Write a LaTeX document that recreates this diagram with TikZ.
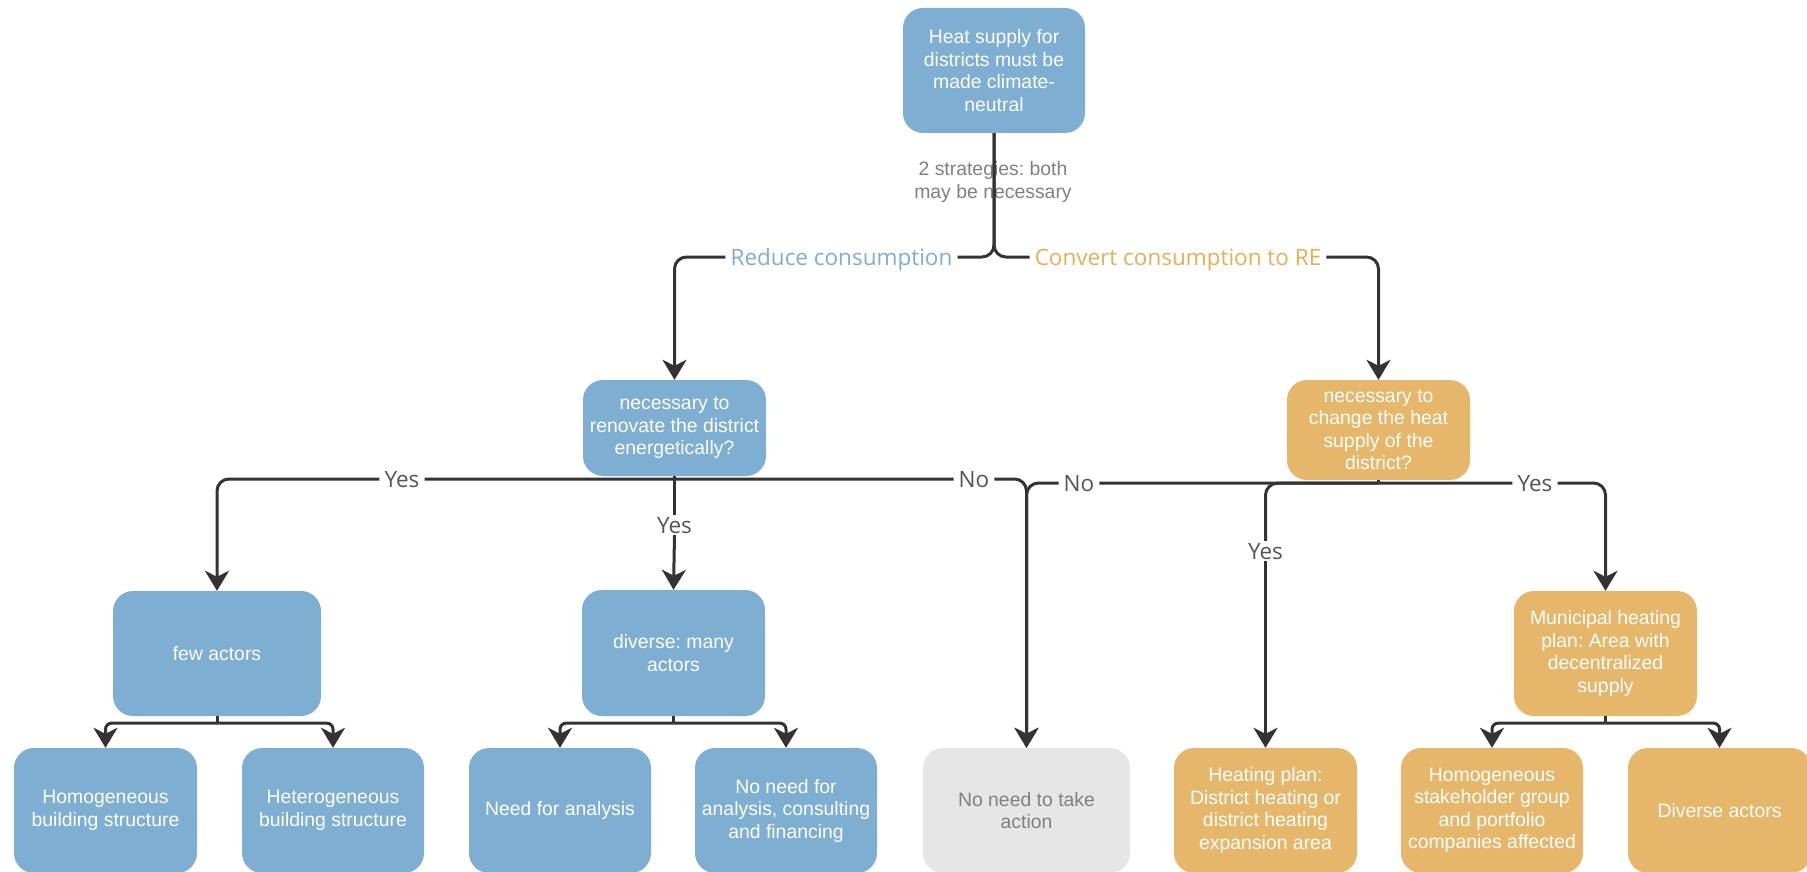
\documentclass[tikz,border=0pt]{standalone}
\usepackage{fontspec}
\setmainfont{Liberation Sans}
\newfontfamily\labelfont{Open Sans}
\usetikzlibrary{arrows.meta}
\frenchspacing

\definecolor{boxblue}{HTML}{7EAED2}
\definecolor{boxorange}{HTML}{E6B76A}
\definecolor{boxgray}{HTML}{E6E6E6}
\definecolor{linedark}{HTML}{333333}
\definecolor{labelgray}{HTML}{555555}
\definecolor{notegray}{HTML}{808080}
\definecolor{mutedtext}{HTML}{808080}
\definecolor{reduceblue}{HTML}{7EAED3}
\definecolor{convertorange}{HTML}{E6AE55}

\tikzset{
  box/.style={rectangle, rounded corners=20pt, align=center, text=white,
    font=\fontsize{19.4}{22.5}\selectfont, inner sep=0pt},
  bluebox/.style={box, fill=boxblue},
  orangebox/.style={box, fill=boxorange},
  graybox/.style={box, fill=boxgray, text=mutedtext},
  lbl/.style={font=\labelfont\fontsize{22.5}{26}\selectfont, text=labelgray,
    fill=white, inner xsep=5pt, inner ysep=2pt, text height=16pt, text depth=0pt},
  note/.style={font=\fontsize{19.4}{22.5}\selectfont, text=notegray, align=center, inner sep=0pt},
  conn/.style={draw=linedark, line width=3pt, rounded corners=12pt},
  smallconn/.style={draw=linedark, line width=3pt, rounded corners=6pt},
  arrowed/.style={-{Stealth[length=20pt,width=24pt,inset=6pt]}},
}

\begin{document}
\begin{tikzpicture}[x=1pt, y=-1pt]
\useasboundingbox (0,0) rectangle (1807,872);
\clip (0,0) rectangle (1807,872);

% decision and outcome boxes
\node[bluebox, minimum width=182pt, minimum height=125pt] (top) at (994,70.5)
  {Heat supply for\\districts must be\\made climate-\\neutral};
\node[bluebox, minimum width=183pt, minimum height=96pt] (ren) at (674.5,428)
  {necessary to\\renovate the district\\energetically?};
\node[orangebox, minimum width=183pt, minimum height=100pt] (chg) at (1378.5,430)
  {necessary to\\change the heat\\supply of the\\district?};

\node[bluebox, minimum width=208pt, minimum height=125pt] (few) at (217,653.5) {few actors};
\node[bluebox, minimum width=183pt, minimum height=126pt] (div) at (673.5,653) {diverse: many\\actors};
\node[orangebox, minimum width=183pt, minimum height=125pt] (muni) at (1605.5,653.5)
  {Municipal heating\\plan: Area with\\decentralized\\supply};

\node[bluebox, minimum width=183pt, minimum height=125pt] (hom) at (105.5,810.5)
  {Homogeneous\\building structure};
\node[bluebox, minimum width=182pt, minimum height=125pt] (het) at (333,810.5)
  {Heterogeneous\\building structure};
\node[bluebox, minimum width=182pt, minimum height=125pt] (need) at (560,810.5)
  {Need for analysis};
\node[bluebox, minimum width=182pt, minimum height=125pt] (noneed) at (786,810.5)
  {No need for\\analysis, consulting\\and financing};
\node[graybox, minimum width=207pt, minimum height=125pt] (none) at (1026.5,810.5)
  {No need to take\\action};
\node[orangebox, minimum width=183pt, minimum height=125pt] (heat) at (1265.5,810.5)
  {Heating plan:\\District heating or\\district heating\\expansion area};
\node[orangebox, minimum width=182pt, minimum height=125pt] (stake) at (1492,810.5)
  {Homogeneous\\stakeholder group\\and portfolio\\companies affected};
\node[orangebox, minimum width=183pt, minimum height=125pt] (divact) at (1719.5,810.5)
  {Diverse actors};

% note on the stem below the top box
\node[note] (strat) at (993,182) {2 strategies: both\\may be necessary};

% junction points just below the boxes
\coordinate (renJ) at ([yshift=-3pt]ren.south);
\coordinate (chgJ) at ([yshift=-3pt]chg.south);
\coordinate (fewJ) at ([yshift=-7pt]few.south);
\coordinate (divJ) at ([yshift=-7pt]div.south);
\coordinate (muniJ) at ([yshift=-7pt]muni.south);

% branch labels
\node[lbl, text=reduceblue] (rc) at (841.5,257) {Reduce consumption};
\node[lbl, text=convertorange] (cc) at (1178,257) {Convert consumption to RE};
\node[lbl] (yesL) at (402,479) {Yes};
\node[lbl] (yesC) at (674.5,525) {Yes};
\node[lbl] (noL) at (974,479) {No};
\node[lbl] (noR) at (1079,483) {No};
\node[lbl] (yesH) at (1265.5,551) {Yes};
\node[lbl] (yesR) at (1535,483) {Yes};

% two strategies
\draw[conn] (top.south) |- (rc.east);
\draw[conn, arrowed] (rc.west) -| (ren.north);
\draw[conn] (top.south) |- (cc.west);
\draw[conn, arrowed] (cc.east) -| (chg.north);

% renovation question
\draw[conn] (ren.south) -- (yesC.north);
\draw[conn, arrowed] (yesC.south) -- (div.north);
\draw[conn] (renJ) -- (yesL.east);
\draw[conn, arrowed] (yesL.west) -| (few.north);
\draw[conn] (renJ) -- (noL.west);
\draw[conn, arrowed] (noL.east) -| (none.north);

% heat supply question
\draw[conn] (chg.south) -- (chgJ);
\draw[conn] (chgJ) -- (noR.east);
\draw[conn, arrowed] (noR.west) -| (none.north);
\draw[conn] (chgJ) -| (yesH.north);
\draw[conn, arrowed] (yesH.south) -- (heat.north);
\draw[conn] (chgJ) -- (yesR.west);
\draw[conn, arrowed] (yesR.east) -| (muni.north);

% actor splits
\draw[smallconn] (few.south) -- (fewJ);
\draw[smallconn, arrowed] (fewJ) -| (hom.north);
\draw[smallconn, arrowed] (fewJ) -| (het.north);
\draw[smallconn] (div.south) -- (divJ);
\draw[smallconn, arrowed] (divJ) -| (need.north);
\draw[smallconn, arrowed] (divJ) -| (noneed.north);
\draw[smallconn] (muni.south) -- (muniJ);
\draw[smallconn, arrowed] (muniJ) -| (stake.north);
\draw[smallconn, arrowed] (muniJ) -| (divact.north);
\end{tikzpicture}
\end{document}
